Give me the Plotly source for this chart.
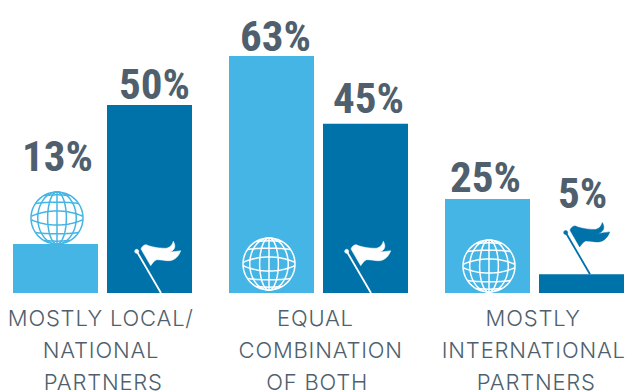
import numpy as np
import plotly.graph_objects as go

# Survey shares per partner type
groups = [["MOSTLY LOCAL/", "NATIONAL", "PARTNERS"],
          ["EQUAL", "COMBINATION", "OF BOTH"],
          ["MOSTLY", "INTERNATIONAL", "PARTNERS"]]
global_values = [13, 63, 25]
national_values = [50, 45, 5]

LIGHT = "#45B5E5"
DARK = "#0072AA"
INK = "#4F5F6D"
W, H = 628, 392
BASE_PX = 293
PX_PER_UNIT = 3.76
BAR_W = 85

# Bar centres in pixels along the full-width x axis
global_x = [55.5, 271.5, 487.5]
national_x = [149.5, 365.5, 581.5]
group_x = [101, 319, 533.5]
# Small per-line offsets of the captions around their group centre
caption_nudge = [[0, 0, 2.5], [-4, 1.5, -2], [0, 0, 3]]


def path_from(points):
    return "M" + " L".join(f"{x:.2f},{y:.2f}" for x, y in points)


def globe_paths(r):
    t = np.linspace(0, 2 * np.pi, 73)
    paths = [path_from(np.c_[r * np.cos(t), r * np.sin(t)])]
    # meridians
    for k in (0.36, 0.74):
        paths.append(path_from(np.c_[k * r * np.cos(t), r * np.sin(t)]))
    paths.append(f"M0,{-r} L0,{r}")
    # parallels
    a = np.linspace(-1, 1, 31)
    for sign in (1, -1):
        paths.append(path_from(np.c_[0.99 * r * a, sign * (0.07 * r + 0.20 * r * (1 - a ** 2))]))
        paths.append(path_from(np.c_[0.81 * r * a, sign * (0.56 * r + 0.05 * r * (1 - a ** 2))]))
        paths.append(path_from(np.c_[0.48 * r * a, sign * (0.86 * r + 0.03 * r * (1 - a ** 2))]))
    return paths


# Flag outline, relative to the foot of the pole (x right, y up)
POLE = "M-24.3,41.7 L0,0"
POLE_KNOB = "M-26.3,41.7 C-26.3,44.4 -22.3,44.4 -22.3,41.7 C-22.3,39 -26.3,39 -26.3,41.7 Z"
FLAG = ("M-20,44 C-19,47 -16,49 -14,48 C-10,46 -3,45 4,44.7 C8,44.7 11,47 12.3,51.7 "
        "C15,47 14.5,43 8.3,40.7 C12,41.5 16,41.5 19.7,42.3 C18,37 14,33 9,32.3 "
        "C5,32 0,33.5 -4.3,33.3 C-7,32.5 -9,29 -10.3,27.3 Z")


def add_icon(fig, cx, cy, paths, color, width, fill=None):
    for p in paths:
        fig.add_shape(type="path", path=p, xref="x", yref="y",
                      xsizemode="pixel", ysizemode="pixel",
                      xanchor=cx, yanchor=cy,
                      line=dict(color=color, width=width),
                      fillcolor=fill if fill else "rgba(0,0,0,0)", layer="above")


def add_flag(fig, cx, cy, color):
    add_icon(fig, cx, cy, [POLE], color, 1.8)
    add_icon(fig, cx, cy, [POLE_KNOB, FLAG], color, 0.5, fill=color)


fig = go.Figure()
fig.add_bar(x=global_x, y=global_values, width=BAR_W, marker=dict(color=LIGHT, line_width=0))
fig.add_bar(x=national_x, y=national_values, width=BAR_W, marker=dict(color=DARK, line_width=0))

# Globes: the smallest bar carries its globe on top, the others inside
globe_r = 26
add_icon(fig, global_x[0] + 1.5, (BASE_PX - 218) / PX_PER_UNIT, globe_paths(globe_r), LIGHT, 1.5)
add_icon(fig, global_x[1] - 2.5, (BASE_PX - 264) / PX_PER_UNIT, globe_paths(globe_r), "white", 1.5)
add_icon(fig, global_x[2] + 1.5, (BASE_PX - 266) / PX_PER_UNIT, globe_paths(globe_r), "white", 1.5)

# Flags stand on the baseline, or on top of the short bar
add_flag(fig, national_x[0] + 11.5, 0, "white")
add_flag(fig, national_x[1] + 5.5, 0, "white")
add_flag(fig, national_x[2] + 8.5, national_values[2], DARK)

# Value labels, lifted clear of the bars and icons
value_lift = {13: 69, 50: 2, 63: 1, 45: 7, 25: 3, 5: 62}
value_nudge = {13: 1.5, 50: 5, 63: 3.5, 45: 2.5, 25: -2.5, 5: 1}
for xs, vals in ((global_x, global_values), (national_x, national_values)):
    for x, v in zip(xs, vals):
        fig.add_annotation(x=x + value_nudge[v], y=v, text=f"{v}%", showarrow=False,
                           yanchor="bottom", yshift=value_lift[v] - 8,
                           font=dict(family="Roboto Condensed", size=43, weight=700, color=INK))

# Category captions, one annotation per line for the wide leading
for gx, lines, nudges in zip(group_x, groups, caption_nudge):
    for i, (line, dx) in enumerate(zip(lines, nudges)):
        fig.add_annotation(x=gx + dx, y=0, text=line, showarrow=False, yanchor="middle",
                           yshift=-(25 + i * 32),
                           font=dict(family="Inter", size=22, color=INK, weight=300))

fig.update_layout(
    width=W, height=H, barmode="overlay", showlegend=False,
    margin=dict(l=0, r=0, t=0, b=0), autosize=False,
    paper_bgcolor="white", plot_bgcolor="white",
    xaxis=dict(range=[0, W], visible=False, fixedrange=True),
    yaxis=dict(range=[-(H - BASE_PX) / PX_PER_UNIT, BASE_PX / PX_PER_UNIT], visible=False, fixedrange=True),
)
# Open up the tracking on the Inter captions
css = "var s=document.createElement('style');s.textContent=\"text.annotation-text[style*='Inter']{letter-spacing:0.8px}\";document.head.appendChild(s);"
fig.write_html("out.html", config={"displayModeBar": False}, post_script=css)
